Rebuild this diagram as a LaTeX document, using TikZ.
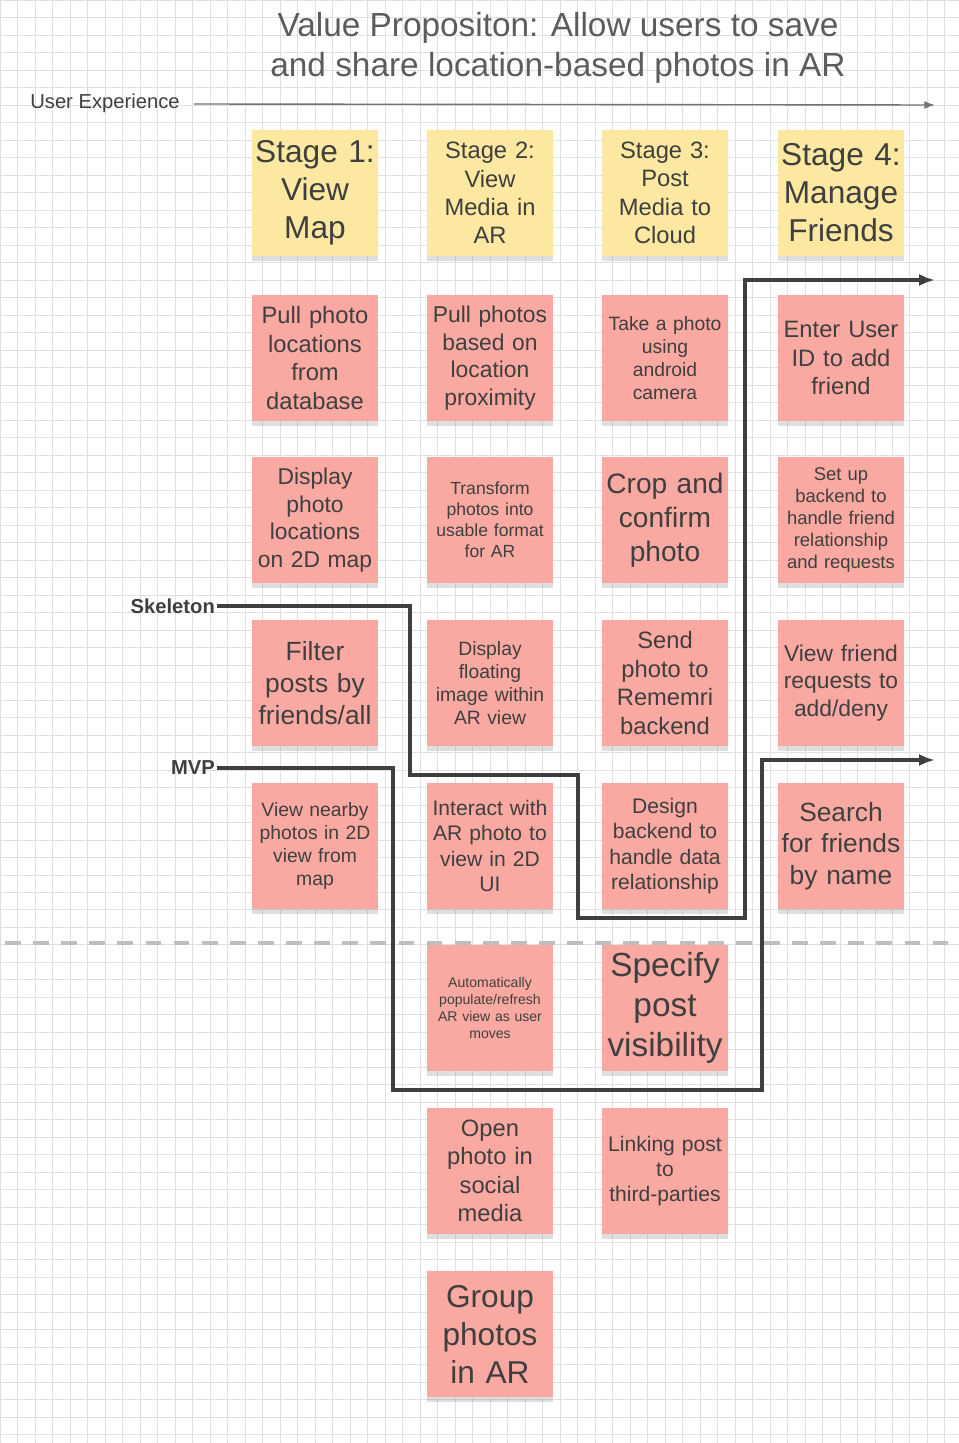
\documentclass[tikz,border=0pt]{standalone}
\usepackage{fontspec}
\setmainfont{Liberation Sans}
\usetikzlibrary{positioning, shadows, arrows.meta}

\definecolor{sticky}{HTML}{F9A9A1}
\definecolor{stage}{HTML}{FCE8A0}
\definecolor{ink}{HTML}{3F3F3F}
\newcommand\fs[1]{\fontsize{#1pt}{\dimexpr #1pt*6/5\relax}\selectfont}

\tikzset{
  note/.style={fill=sticky, minimum width=2.52cm, minimum height=2.52cm,
    text width=2.44cm, align=center, inner sep=0pt, text=ink,
    drop shadow={opacity=0.25, shadow xshift=0pt, shadow yshift=-3pt}},
  stagenote/.style={note, fill=stage},
  slice/.style={draw=ink, line width=2.5pt, -{Latex[length=9pt]}},
}

\begin{document}
\begin{tikzpicture}[x=0.02cm, y=-0.02cm]

\useasboundingbox (0,0) rectangle (959,1443);
\fill[white] (0,0) rectangle (959,1443);
\draw[black!12, step=0.35cm] (0,0) grid (959,1443);

% title
\node[text=ink!85, align=center, font=\fs{19}] (title) at (558,48)
  {Value Propositon: Allow users to save\\and share location-based photos in AR};
\node[text=ink, font=\fs{11.5}] (ux) at (105,103) {User Experience};
\coordinate (uxend) at (935,105);
\draw[black!55, line width=0.8pt, -{Latex[length=6pt]}] (ux.east) ++(8,1) -- (uxend);

% stage headers
\node[stagenote, font=\fs{18}]   (s1) at (315,193) {Stage 1:\\View\\Map};
\node[stagenote, font=\fs{13.5}] (s2) at (490,193) {Stage 2:\\View\\Media in\\AR};
\node[stagenote, font=\fs{13.5}] (s3) at (665,193) {Stage 3:\\Post\\Media to\\Cloud};
\node[stagenote, font=\fs{18}]   (s4) at (841,193) {Stage 4:\\Manage\\Friends};

% stage 1
\node[note, font=\fs{13.5}] (a1) at (315,358) {Pull photo\\locations\\from\\database};
\node[note, font=\fs{13}]   (a2) at (315,520) {Display\\photo\\locations\\on 2D map};
\node[note, font=\fs{15}]   (a3) at (315,683) {Filter\\posts by\\friends/all};
\node[note, font=\fs{11}]   (a4) at (315,846) {View nearby\\photos in 2D\\view from\\map};

% stage 2
\node[note, font=\fs{13}]   (b1) at (490,358) {Pull photos\\based on\\location\\proximity};
\node[note, font=\fs{10}]   (b2) at (490,520) {Transform\\photos into\\usable format\\for AR};
\node[note, font=\fs{11}]   (b3) at (490,683) {Display\\floating\\image within\\AR view};
\node[note, font=\fs{12}]   (b4) at (490,846) {Interact with\\AR photo to\\view in 2D\\UI};
\node[note, font=\fs{8}]    (b5) at (490,1008) {Automatically\\populate/refresh\\AR view as user\\moves};
\node[note, font=\fs{13.5}] (b6) at (490,1171) {Open\\photo in\\social\\media};
\node[note, font=\fs{18}]   (b7) at (490,1334) {Group\\photos\\in AR};

% stage 3
\node[note, font=\fs{11}]   (c1) at (665,358) {Take a photo\\using\\android\\camera};
\node[note, font=\fs{16}]   (c2) at (665,520) {Crop and\\confirm\\photo};
\node[note, font=\fs{13.5}] (c3) at (665,683) {Send\\photo to\\Rememri\\backend};
\node[note, font=\fs{12}]   (c4) at (665,846) {Design\\backend to\\handle data\\relationship};
\node[note, font=\fs{19}]   (c5) at (665,1008) {Specify\\post\\visibility};
\node[note, font=\fs{12}]   (c6) at (665,1171) {Linking post\\to\\third-parties};

% stage 4
\node[note, font=\fs{13.5}] (d1) at (841,358) {Enter User\\ID to add\\friend};
\node[note, font=\fs{10.5}] (d2) at (841,520) {Set up\\backend to\\handle friend\\relationship\\and requests};
\node[note, font=\fs{13}]   (d3) at (841,683) {View friend\\requests to\\add/deny};
\node[note, font=\fs{15}]   (d4) at (841,846) {Search\\for friends\\by name};

% release lines
\draw[black!25, line width=2pt, dash pattern=on 9pt off 7pt] (5,943) -- (959,943);

\node[text=ink, font=\bfseries\fs{11.5}, anchor=east, inner sep=1pt] (skel) at (217,606) {Skeleton};
\node[text=ink, font=\bfseries\fs{11.5}, anchor=east, inner sep=1pt] (mvp) at (217,768) {MVP};
\coordinate (skelend) at (935,280);
\coordinate (mvpend) at (935,760);

\draw[slice] (skel.east) -- (410,606) -- (410,775) -- (578,775) -- (578,918)
  -- (745,918) -- (745,280) -- (skelend);
\draw[slice] (mvp.east) -- (393,768) -- (393,1090) -- (762,1090) -- (762,760)
  -- (mvpend);

\end{tikzpicture}
\end{document}
